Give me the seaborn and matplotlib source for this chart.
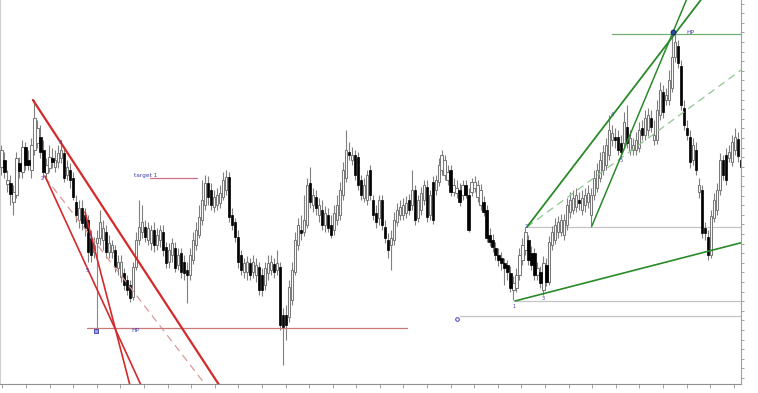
import numpy as np
import pandas as pd
import matplotlib
matplotlib.use("Agg")
import matplotlib.pyplot as plt
import seaborn as sns

# ---- OHLC data (arbitrary price units) ----
opens = [233, 240, 216, 217, 198, 205, 237, 228, 253, 240,
         230, 250, 257, 263, 250, 227, 232, 242, 233, 238,
         242, 247, 225, 230, 222, 198, 180, 192, 185, 180,
         162, 148, 157, 162, 160, 168, 148, 148, 150, 132,
         123, 127, 120, 115, 103, 133, 160, 168, 173, 160,
         157, 170, 155, 160, 168, 153, 138, 145, 152, 135,
         147, 138, 130, 125, 140, 155, 165, 180, 195, 217,
         210, 193, 195, 197, 203, 210, 223, 185, 178, 163,
         145, 128, 128, 137, 128, 125, 133, 125, 115, 127,
         130, 136, 130, 133, 85, 85, 83, 100, 128, 155,
         170, 168, 175, 217, 195, 203, 185, 190, 175, 185,
         175, 170, 180, 185, 205, 222, 248, 240, 245, 243,
         220, 202, 200, 230, 200, 187, 182, 200, 173, 160,
         155, 160, 178, 185, 185, 187, 200, 195, 210, 182,
         190, 200, 213, 185, 218, 210, 218, 230, 225, 220,
         230, 208, 207, 210, 205, 215, 205, 208, 212, 203,
         195, 198, 190, 165, 160, 152, 145, 142, 137, 135,
         127, 110, 112, 125, 140, 150, 160, 147, 147, 125,
         128, 110, 135, 118, 155, 160, 168, 168, 165, 175,
         188, 190, 193, 200, 190, 195, 198, 185, 205, 212,
         222, 230, 235, 245, 260, 263, 263, 257, 257, 273,
         250, 250, 250, 252, 272, 265, 270, 282, 260, 260,
         285, 308, 300, 300, 312, 343, 354, 334, 292, 272,
         263, 240, 250, 208, 210, 172, 163, 145, 182, 190,
         210, 240, 245, 242, 238, 250, 261, 240]
highs = [255, 248, 230, 225, 215, 248, 243, 260, 258, 250,
         262, 300, 280, 275, 260, 242, 255, 252, 250, 255,
         260, 252, 240, 237, 228, 205, 200, 200, 192, 185,
         170, 163, 170, 190, 180, 175, 165, 160, 155, 145,
         145, 132, 125, 120, 138, 168, 200, 195, 180, 178,
         175, 178, 172, 175, 175, 158, 157, 162, 158, 152,
         152, 145, 138, 152, 168, 178, 195, 220, 225, 224,
         217, 210, 212, 215, 228, 230, 228, 192, 182, 170,
         150, 142, 144, 142, 145, 142, 138, 132, 138, 145,
         145, 142, 150, 138, 92, 95, 120, 138, 168, 182,
         185, 205, 222, 233, 212, 210, 202, 200, 194, 192,
         185, 195, 205, 218, 238, 270, 258, 253, 250, 248,
         225, 222, 230, 235, 205, 195, 205, 205, 180, 167,
         170, 188, 197, 200, 202, 204, 206, 230, 215, 205,
         213, 220, 220, 210, 224, 225, 242, 250, 245, 235,
         235, 222, 220, 217, 220, 220, 212, 222, 224, 220,
         216, 204, 195, 172, 166, 158, 152, 148, 142, 140,
         134, 124, 132, 152, 162, 173, 165, 154, 152, 138,
         134, 144, 142, 164, 174, 182, 184, 186, 186, 202,
         208, 210, 212, 208, 210, 212, 215, 212, 230, 237,
         248, 255, 262, 285, 275, 272, 270, 265, 288, 295,
         270, 262, 268, 278, 280, 290, 292, 290, 280, 300,
         318, 315, 312, 330, 367, 367, 360, 340, 300, 280,
         270, 262, 258, 222, 215, 178, 170, 190, 207, 217,
         247, 245, 252, 255, 265, 272, 268, 250]
lows = [225, 222, 208, 195, 185, 202, 222, 222, 230, 230,
        222, 245, 252, 242, 222, 222, 228, 232, 228, 232,
        237, 218, 220, 212, 200, 178, 172, 170, 164, 138,
        138, 142, 152, 155, 150, 142, 142, 142, 128, 125,
        118, 110, 105, 98, 100, 130, 155, 162, 158, 155,
        150, 148, 150, 153, 144, 132, 132, 138, 128, 130,
        122, 120, 97, 120, 136, 150, 162, 175, 190, 195,
        190, 188, 190, 192, 200, 205, 178, 170, 158, 132,
        125, 122, 120, 120, 122, 118, 105, 104, 110, 120,
        125, 122, 125, 70, 35, 60, 78, 95, 125, 150,
        160, 164, 172, 192, 188, 185, 178, 170, 168, 168,
        162, 165, 175, 180, 200, 218, 240, 235, 220, 210,
        200, 198, 195, 200, 180, 172, 175, 170, 157, 142,
        130, 155, 174, 180, 180, 182, 185, 190, 175, 178,
        185, 195, 178, 180, 176, 205, 214, 225, 220, 215,
        204, 204, 202, 194, 200, 202, 168, 204, 208, 198,
        190, 184, 158, 154, 148, 140, 134, 130, 115, 120,
        108, 100, 108, 120, 135, 145, 135, 130, 120, 120,
        112, 105, 114, 115, 150, 156, 162, 164, 160, 170,
        182, 186, 188, 190, 185, 188, 192, 173, 200, 208,
        218, 225, 230, 240, 254, 252, 245, 242, 252, 252,
        245, 245, 245, 248, 260, 260, 264, 268, 255, 256,
        280, 282, 295, 295, 308, 338, 332, 290, 270, 260,
        232, 235, 225, 202, 162, 160, 140, 142, 178, 185,
        205, 220, 215, 238, 234, 245, 238, 213]
closes = [250, 228, 220, 206, 208, 242, 229, 253, 235, 235,
          255, 282, 272, 248, 228, 235, 243, 238, 240, 247,
          250, 222, 233, 220, 203, 185, 192, 177, 172, 148,
          145, 155, 162, 178, 172, 148, 157, 155, 133, 138,
          138, 115, 110, 102, 133, 160, 173, 178, 163, 172,
          170, 155, 165, 170, 150, 137, 150, 157, 132, 145,
          128, 127, 125, 145, 160, 170, 183, 200, 217, 203,
          195, 203, 205, 207, 220, 223, 183, 175, 163, 138,
          130, 137, 138, 125, 138, 135, 110, 110, 132, 137,
          138, 128, 137, 75, 73, 75, 113, 130, 160, 175,
          167, 180, 215, 198, 205, 192, 195, 175, 187, 172,
          165, 187, 195, 210, 230, 250, 245, 245, 225, 215,
          205, 215, 225, 205, 185, 178, 200, 175, 162, 150,
          162, 180, 190, 193, 195, 197, 190, 210, 180, 200,
          207, 215, 183, 205, 180, 220, 235, 245, 240, 228,
          208, 215, 212, 198, 215, 205, 170, 218, 218, 215,
          210, 188, 162, 158, 153, 145, 140, 137, 132, 128,
          112, 117, 125, 145, 155, 168, 140, 135, 125, 132,
          117, 137, 118, 158, 168, 175, 178, 180, 180, 195,
          200, 202, 205, 197, 202, 205, 207, 205, 222, 230,
          240, 248, 255, 270, 267, 260, 250, 248, 278, 257,
          262, 255, 260, 270, 265, 282, 285, 273, 265, 290,
          310, 288, 305, 320, 343, 358, 337, 295, 275, 265,
          238, 255, 230, 215, 167, 167, 145, 184, 200, 210,
          240, 225, 220, 248, 258, 263, 244, 233]

# ---- drawn objects (anchor points in bar index / price units) ----
red_main_x, red_main_y = [10.5, 74.0], [300, 9]
red_steep1_x, red_steep1_y = [14.5, 47.5], [224, 9]
red_steep2_x, red_steep2_y = [27.9, 43.4], [188, 9]
red_dash_x, red_dash_y = [14.5, 70.0], [223, 8]
red_hp_x, red_hp_y = [28.6, 135.4], [72, 72]
target_x, target_y = [49.6, 65.3], [222, 222]
vline_x, vline_y = [31.9, 31.9], [157, 70]
green_up1_x, green_up1_y = [175.5, 235.0], [173, 405.6]
green_up2_x, green_up2_y = [197.2, 229.5], [174, 405.3]
green_dash_x, green_dash_y = [175.5, 247.5], [173, 331]
green_low_x, green_low_y = [171.5, 247.5], [99, 157.6]
green_hp_x, green_hp_y = [203.9, 247.5], [366, 366]
grey_levels = [173, 99, 84]
grey_starts = [175.5, 171.5, 153.1]

red_labels = [("2", 13.6, 222), ("3", 19.6, 257), ("4", 29.5, 164), ("5", 28.6, 130)]
green_labels = [("1", 171.3, 93), ("2", 175.4, 173), ("3", 181.0, 101),
                ("4", 203.9, 285), ("5", 207.0, 240)]

df = pd.DataFrame({"o": opens, "h": highs, "l": lows, "c": closes})
df["i"] = np.arange(len(df))
up = df["c"] >= df["o"]

sns.set_style("white")
fig = plt.figure(figsize=(7.58, 3.93), dpi=100)
ax = fig.add_axes([0.0, 9 / 393, 741 / 758, 384 / 393])

# wicks
ax.vlines(df["i"], df["l"], df["h"], color="#808080", lw=0.8, zorder=2)
# bodies
body_lo = np.minimum(df["o"], df["c"])
body_h = np.maximum(np.abs(df["c"] - df["o"]), 1.2)
ax.bar(df["i"][up], body_h[up], bottom=body_lo[up], width=0.74,
       color="white", edgecolor="#7a7a7a", linewidth=0.75, zorder=3)
ax.bar(df["i"][~up], body_h[~up], bottom=body_lo[~up], width=0.74,
       color="black", edgecolor="black", linewidth=0.5, zorder=3)


def seg(xs, ys, **kw):
    d = pd.DataFrame({"x": xs, "y": ys})
    sns.lineplot(data=d, x="x", y="y", ax=ax, sort=False, estimator=None, **kw)


# red study
seg(red_main_x, red_main_y, color="#d42a2a", lw=1.6, zorder=5)
seg(red_steep1_x, red_steep1_y, color="#d42a2a", lw=1.2, zorder=5)
seg(red_steep2_x, red_steep2_y, color="#d42a2a", lw=1.2, zorder=5)
seg(red_dash_x, red_dash_y, color="#dc9a9a", lw=0.9, dashes=(6, 4), zorder=4)
seg(red_hp_x, red_hp_y, color="#c87878", lw=0.9, zorder=4)
seg(target_x, target_y, color="#c87080", lw=0.9, zorder=4)
seg(vline_x, vline_y, color="#8a8a8a", lw=0.8, zorder=4)
ax.plot([31.6], [69], marker="s", ms=3, mfc="#9aa0e0", mec="#3a3aa8", mew=0.6, zorder=6)
ax.text(43.3, 69, "HP", fontsize=4.2, color="#4040b0", va="center", ha="left", zorder=6)
ax.text(44.3, 224, "target 1", fontsize=4.2, color="#4040b0", va="center", ha="left", zorder=6)
for t, x, y in red_labels:
    ax.text(x, y, t, fontsize=3.5, color="#4040c0", ha="center", va="center", zorder=6)

# green study
for lvl, st in zip(grey_levels, grey_starts):
    seg([st, 247.5], [lvl, lvl], color="#c4c4c4", lw=0.9, zorder=1)
seg(green_up1_x, green_up1_y, color="#2a8a2a", lw=1.3, zorder=5)
seg(green_up2_x, green_up2_y, color="#2a8a2a", lw=1.1, zorder=5)
seg(green_dash_x, green_dash_y, color="#90c890", lw=0.9, dashes=(6, 4), zorder=4)
seg(green_low_x, green_low_y, color="#2a8a2a", lw=1.2, zorder=5)
seg(green_hp_x, green_hp_y, color="#70b070", lw=0.9, zorder=4)
ax.plot([224.3], [368], marker="o", ms=3.2, mfc="#3050a0", mec="#203070", zorder=7)
ax.text(228.6, 368, "HP", fontsize=4.2, color="#4040b0", va="center", ha="left", zorder=6)
ax.plot([152.3], [81], marker="o", ms=2.6, mfc="white", mec="#4040c0", mew=0.7, zorder=6)
for t, x, y in green_labels:
    ax.text(x, y, t, fontsize=3.5, color="#4040c0", ha="center", va="center", zorder=6)

ax.set_xlim(-0.5, 247.0)
ax.set_ylim(16, 400)
ax.set_xlabel("")
ax.set_ylabel("")
ax.set_xticks(np.arange(0.3, 248, 7.88))
ax.set_yticks(np.arange(22, 400, 9.6))
ax.yaxis.tick_right()
ax.tick_params(axis="x", bottom=True, direction="out", length=3, width=0.6,
               color="#909090", labelbottom=False)
ax.tick_params(axis="y", right=True, left=False, direction="out", length=2.5,
               width=0.6, color="#909090", labelright=False, labelleft=False)
ax.spines["top"].set_visible(False)
ax.spines["left"].set_color("#d0d0d0")
ax.spines["left"].set_linewidth(0.8)
ax.spines["bottom"].set_color("#909090")
ax.spines["bottom"].set_linewidth(0.8)
ax.spines["right"].set_color("#a0a0a0")
ax.spines["right"].set_linewidth(0.8)
ax.grid(False)
ax.set_facecolor("white")

fig.savefig("out.png", dpi=100, facecolor="white")
